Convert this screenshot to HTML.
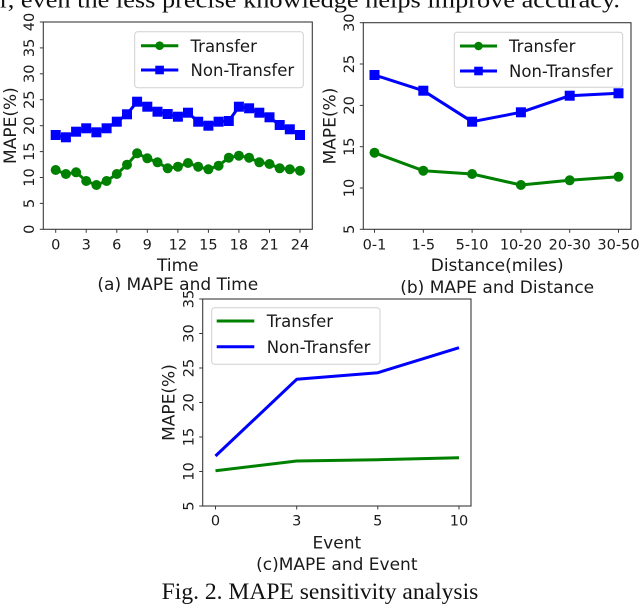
<!DOCTYPE html>
<html>
<head>
<meta charset="utf-8">
<style>
html,body{margin:0;padding:0;background:#fff;}
svg{display:block;}
.tk{font-family:"DejaVu Sans","Liberation Sans",sans-serif;font-size:14.5px;fill:#1a1a1a;}
.lb{font-family:"DejaVu Sans","Liberation Sans",sans-serif;font-size:17px;fill:#1a1a1a;}
.lg{font-family:"DejaVu Sans","Liberation Sans",sans-serif;font-size:16.5px;fill:#1a1a1a;}
.sf{font-family:"Liberation Serif","DejaVu Serif",serif;font-size:23px;fill:#111;}
</style>
</head>
<body>
<svg width="640" height="608" viewBox="0 0 640 608" xmlns="http://www.w3.org/2000/svg">
<rect width="640" height="608" fill="#fff"/>

<!-- top clipped text -->
<text class="sf" x="0" y="7.5" textLength="620" lengthAdjust="spacingAndGlyphs">r, even the less precise knowledge helps improve accuracy.</text>

<!-- ================= Plot A ================= -->
<g>
  <!-- data -->
  <polyline fill="none" stroke="#0000ff" stroke-width="3" stroke-linejoin="round"
    points="55.7,135 65.9,137.3 76.1,131.7 86.2,128.3 96.4,132.3 106.6,128.3 116.8,121.7 127,114.3 137.1,101.7 147.3,106.7 157.5,111.7 167.7,114 177.9,116.7 188,112.7 198.2,121.7 208.4,125.7 218.6,121.7 228.8,121 238.9,106.7 249.1,108.3 259.3,112.7 269.5,117.3 279.7,125 289.8,129.3 300,135"/>
  <g fill="#0000ff">
    <rect x="50.7" y="130" width="10" height="10"/><rect x="60.9" y="132.3" width="10" height="10"/><rect x="71.1" y="126.7" width="10" height="10"/><rect x="81.2" y="123.3" width="10" height="10"/><rect x="91.4" y="127.3" width="10" height="10"/><rect x="101.6" y="123.3" width="10" height="10"/><rect x="111.8" y="116.7" width="10" height="10"/><rect x="122" y="109.3" width="10" height="10"/><rect x="132.1" y="96.7" width="10" height="10"/><rect x="142.3" y="101.7" width="10" height="10"/><rect x="152.5" y="106.7" width="10" height="10"/><rect x="162.7" y="109" width="10" height="10"/><rect x="172.9" y="111.7" width="10" height="10"/><rect x="183" y="107.7" width="10" height="10"/><rect x="193.2" y="116.7" width="10" height="10"/><rect x="203.4" y="120.7" width="10" height="10"/><rect x="213.6" y="116.7" width="10" height="10"/><rect x="223.8" y="116" width="10" height="10"/><rect x="233.9" y="101.7" width="10" height="10"/><rect x="244.1" y="103.3" width="10" height="10"/><rect x="254.3" y="107.7" width="10" height="10"/><rect x="264.5" y="112.3" width="10" height="10"/><rect x="274.7" y="120" width="10" height="10"/><rect x="284.8" y="124.3" width="10" height="10"/><rect x="295" y="130" width="10" height="10"/>
  </g>
  <polyline fill="none" stroke="#008000" stroke-width="3" stroke-linejoin="round"
    points="55.7,170 65.9,174 76.1,172.3 86.2,181 96.4,185 106.6,181 116.8,174 127,164.7 137.1,153.3 147.3,158.3 157.5,162.3 167.7,168.3 177.9,166.7 188,163 198.2,166.7 208.4,169.3 218.6,165.7 228.8,157.7 238.9,155.7 249.1,157.7 259.3,162.3 269.5,164 279.7,168.3 289.8,169.3 300,170.7"/>
  <g fill="#008000">
    <circle cx="55.7" cy="170" r="5"/><circle cx="65.9" cy="174" r="5"/><circle cx="76.1" cy="172.3" r="5"/><circle cx="86.2" cy="181" r="5"/><circle cx="96.4" cy="185" r="5"/><circle cx="106.6" cy="181" r="5"/><circle cx="116.8" cy="174" r="5"/><circle cx="127" cy="164.7" r="5"/><circle cx="137.1" cy="153.3" r="5"/><circle cx="147.3" cy="158.3" r="5"/><circle cx="157.5" cy="162.3" r="5"/><circle cx="167.7" cy="168.3" r="5"/><circle cx="177.9" cy="166.7" r="5"/><circle cx="188" cy="163" r="5"/><circle cx="198.2" cy="166.7" r="5"/><circle cx="208.4" cy="169.3" r="5"/><circle cx="218.6" cy="165.7" r="5"/><circle cx="228.8" cy="157.7" r="5"/><circle cx="238.9" cy="155.7" r="5"/><circle cx="249.1" cy="157.7" r="5"/><circle cx="259.3" cy="162.3" r="5"/><circle cx="269.5" cy="164" r="5"/><circle cx="279.7" cy="168.3" r="5"/><circle cx="289.8" cy="169.3" r="5"/><circle cx="300" cy="170.7" r="5"/>
  </g>
  <!-- axes frame -->
  <rect x="43.3" y="22" width="269" height="207.3" fill="none" stroke="#3a3a3a" stroke-width="1.1"/>
  <!-- y ticks -->
  <g stroke="#3a3a3a" stroke-width="1">
    <line x1="39.8" y1="229.3" x2="43.3" y2="229.3"/><line x1="39.8" y1="203.4" x2="43.3" y2="203.4"/><line x1="39.8" y1="177.5" x2="43.3" y2="177.5"/><line x1="39.8" y1="151.6" x2="43.3" y2="151.6"/><line x1="39.8" y1="125.7" x2="43.3" y2="125.7"/><line x1="39.8" y1="99.7" x2="43.3" y2="99.7"/><line x1="39.8" y1="73.8" x2="43.3" y2="73.8"/><line x1="39.8" y1="47.9" x2="43.3" y2="47.9"/><line x1="39.8" y1="22" x2="43.3" y2="22"/>
    <line x1="55.7" y1="229.3" x2="55.7" y2="232.8"/><line x1="86.2" y1="229.3" x2="86.2" y2="232.8"/><line x1="116.8" y1="229.3" x2="116.8" y2="232.8"/><line x1="147.3" y1="229.3" x2="147.3" y2="232.8"/><line x1="177.9" y1="229.3" x2="177.9" y2="232.8"/><line x1="208.4" y1="229.3" x2="208.4" y2="232.8"/><line x1="238.9" y1="229.3" x2="238.9" y2="232.8"/><line x1="269.5" y1="229.3" x2="269.5" y2="232.8"/><line x1="300" y1="229.3" x2="300" y2="232.8"/>
  </g>
  <g class="tk" text-anchor="middle">
    <text transform="translate(34,229.3) rotate(-90)">0</text>
    <text transform="translate(34,203.4) rotate(-90)">5</text>
    <text transform="translate(34,177.5) rotate(-90)">10</text>
    <text transform="translate(34,151.6) rotate(-90)">15</text>
    <text transform="translate(34,125.7) rotate(-90)">20</text>
    <text transform="translate(34,99.7) rotate(-90)">25</text>
    <text transform="translate(34,73.8) rotate(-90)">30</text>
    <text transform="translate(34,47.9) rotate(-90)">35</text>
    <text transform="translate(34,22) rotate(-90)">40</text>
    <text x="55.7" y="249.3">0</text><text x="86.2" y="249.3">3</text><text x="116.8" y="249.3">6</text><text x="147.3" y="249.3">9</text><text x="177.9" y="249.3">12</text><text x="208.4" y="249.3">15</text><text x="238.9" y="249.3">18</text><text x="269.5" y="249.3">21</text><text x="300" y="249.3">24</text>
  </g>
  <text class="lb" text-anchor="middle" transform="translate(16,125.6) rotate(-90)">MAPE(%)</text>
  <text class="lb" x="177.8" y="271" text-anchor="middle">Time</text>
  <text class="lb" x="177.8" y="290" text-anchor="middle">(a) MAPE and Time</text>
  <!-- legend -->
  <rect x="134.7" y="31.7" width="168.6" height="56" rx="3" fill="#fff" fill-opacity="0.85" stroke="#d0d0d0" stroke-width="1"/>
  <line x1="141" y1="45.7" x2="178.3" y2="45.7" stroke="#008000" stroke-width="3"/>
  <circle cx="159.6" cy="45.7" r="4.3" fill="#008000"/>
  <line x1="141" y1="70" x2="178.3" y2="70" stroke="#0000ff" stroke-width="3"/>
  <rect x="155.3" y="65.7" width="8.6" height="8.6" fill="#0000ff"/>
  <text class="lg" x="190.5" y="51.8">Transfer</text>
  <text class="lg" x="190.5" y="76.1">Non-Transfer</text>
</g>

<!-- ================= Plot B ================= -->
<g>
  <polyline fill="none" stroke="#0000ff" stroke-width="3" stroke-linejoin="round"
    points="374.5,75 423.3,90.7 472.1,121.7 520.9,112.3 569.7,95.7 618.5,93.3"/>
  <g fill="#0000ff">
    <rect x="369.5" y="70" width="10" height="10"/><rect x="418.3" y="85.7" width="10" height="10"/><rect x="467.1" y="116.7" width="10" height="10"/><rect x="515.9" y="107.3" width="10" height="10"/><rect x="564.7" y="90.7" width="10" height="10"/><rect x="613.5" y="88.3" width="10" height="10"/>
  </g>
  <polyline fill="none" stroke="#008000" stroke-width="3" stroke-linejoin="round"
    points="374.5,152.7 423.3,170.7 472.1,174 520.9,185 569.7,180.3 618.5,176.7"/>
  <g fill="#008000">
    <circle cx="374.5" cy="152.7" r="5"/><circle cx="423.3" cy="170.7" r="5"/><circle cx="472.1" cy="174" r="5"/><circle cx="520.9" cy="185" r="5"/><circle cx="569.7" cy="180.3" r="5"/><circle cx="618.5" cy="176.7" r="5"/>
  </g>
  <rect x="363.3" y="22.7" width="267.7" height="206.6" fill="none" stroke="#3a3a3a" stroke-width="1.1"/>
  <g stroke="#3a3a3a" stroke-width="1">
    <line x1="359.8" y1="229.3" x2="363.3" y2="229.3"/><line x1="359.8" y1="188" x2="363.3" y2="188"/><line x1="359.8" y1="146.7" x2="363.3" y2="146.7"/><line x1="359.8" y1="105.4" x2="363.3" y2="105.4"/><line x1="359.8" y1="64" x2="363.3" y2="64"/><line x1="359.8" y1="22.7" x2="363.3" y2="22.7"/>
    <line x1="374.5" y1="229.3" x2="374.5" y2="232.8"/><line x1="423.3" y1="229.3" x2="423.3" y2="232.8"/><line x1="472.1" y1="229.3" x2="472.1" y2="232.8"/><line x1="520.9" y1="229.3" x2="520.9" y2="232.8"/><line x1="569.7" y1="229.3" x2="569.7" y2="232.8"/><line x1="618.5" y1="229.3" x2="618.5" y2="232.8"/>
  </g>
  <g class="tk" text-anchor="middle">
    <text transform="translate(354,229.3) rotate(-90)">5</text>
    <text transform="translate(354,188) rotate(-90)">10</text>
    <text transform="translate(354,146.7) rotate(-90)">15</text>
    <text transform="translate(354,105.4) rotate(-90)">20</text>
    <text transform="translate(354,64) rotate(-90)">25</text>
    <text transform="translate(354,22.7) rotate(-90)">30</text>
    <text x="374.5" y="249.3">0-1</text><text x="423.3" y="249.3">1-5</text><text x="472.1" y="249.3">5-10</text><text x="520.9" y="249.3">10-20</text><text x="569.7" y="249.3">20-30</text><text x="618.5" y="249.3">30-50</text>
  </g>
  <text class="lb" text-anchor="middle" transform="translate(335.5,126) rotate(-90)">MAPE(%)</text>
  <text class="lb" x="497.2" y="271" text-anchor="middle">Distance(miles)</text>
  <text class="lb" x="497.2" y="293" text-anchor="middle">(b) MAPE and Distance</text>
  <rect x="454.3" y="32.3" width="168.4" height="55" rx="3" fill="#fff" fill-opacity="0.85" stroke="#d0d0d0" stroke-width="1"/>
  <line x1="460" y1="46" x2="497" y2="46" stroke="#008000" stroke-width="3"/>
  <circle cx="478.5" cy="46" r="4.3" fill="#008000"/>
  <line x1="460" y1="71" x2="497" y2="71" stroke="#0000ff" stroke-width="3"/>
  <rect x="474.2" y="66.7" width="8.6" height="8.6" fill="#0000ff"/>
  <text class="lg" x="509" y="52.1">Transfer</text>
  <text class="lg" x="509" y="77.1">Non-Transfer</text>
</g>

<!-- ================= Plot C ================= -->
<g>
  <polyline fill="none" stroke="#0000ff" stroke-width="3" stroke-linejoin="round"
    points="215.5,456 296.7,379.3 377.8,372.7 459,347.7"/>
  <polyline fill="none" stroke="#008000" stroke-width="3" stroke-linejoin="round"
    points="215.5,470.7 296.7,461 377.8,459.7 459,457.7"/>
  <rect x="202.7" y="299" width="268.3" height="207" fill="none" stroke="#3a3a3a" stroke-width="1.1"/>
  <g stroke="#3a3a3a" stroke-width="1">
    <line x1="199.2" y1="506" x2="202.7" y2="506"/><line x1="199.2" y1="471.5" x2="202.7" y2="471.5"/><line x1="199.2" y1="437" x2="202.7" y2="437"/><line x1="199.2" y1="402.5" x2="202.7" y2="402.5"/><line x1="199.2" y1="368" x2="202.7" y2="368"/><line x1="199.2" y1="333.5" x2="202.7" y2="333.5"/><line x1="199.2" y1="299" x2="202.7" y2="299"/>
    <line x1="215.5" y1="506" x2="215.5" y2="509.5"/><line x1="296.7" y1="506" x2="296.7" y2="509.5"/><line x1="377.8" y1="506" x2="377.8" y2="509.5"/><line x1="459" y1="506" x2="459" y2="509.5"/>
  </g>
  <g class="tk" text-anchor="middle">
    <text transform="translate(193.5,506) rotate(-90)">5</text>
    <text transform="translate(193.5,471.5) rotate(-90)">10</text>
    <text transform="translate(193.5,437) rotate(-90)">15</text>
    <text transform="translate(193.5,402.5) rotate(-90)">20</text>
    <text transform="translate(193.5,368) rotate(-90)">25</text>
    <text transform="translate(193.5,333.5) rotate(-90)">30</text>
    <text transform="translate(193.5,299) rotate(-90)">35</text>
    <text x="215.5" y="525.5">0</text><text x="296.7" y="525.5">3</text><text x="377.8" y="525.5">5</text><text x="459" y="525.5">10</text>
  </g>
  <text class="lb" text-anchor="middle" transform="translate(174.5,402.5) rotate(-90)">MAPE(%)</text>
  <text class="lb" x="336.8" y="548.3" text-anchor="middle">Event</text>
  <text class="lb" x="336.8" y="570" text-anchor="middle">(c)MAPE and Event</text>
  <rect x="211.7" y="307.7" width="168.3" height="56.6" rx="3" fill="#fff" fill-opacity="0.85" stroke="#d0d0d0" stroke-width="1"/>
  <line x1="216.7" y1="321" x2="254.3" y2="321" stroke="#008000" stroke-width="3"/>
  <line x1="216.7" y1="346.7" x2="254.3" y2="346.7" stroke="#0000ff" stroke-width="3"/>
  <text class="lg" x="266.7" y="327.1">Transfer</text>
  <text class="lg" x="266.7" y="352.8">Non-Transfer</text>
</g>

<!-- figure caption -->
<text class="sf" x="161.7" y="599" textLength="316.6" lengthAdjust="spacingAndGlyphs">Fig. 2.  MAPE sensitivity analysis</text>
</svg>
</body>
</html>
